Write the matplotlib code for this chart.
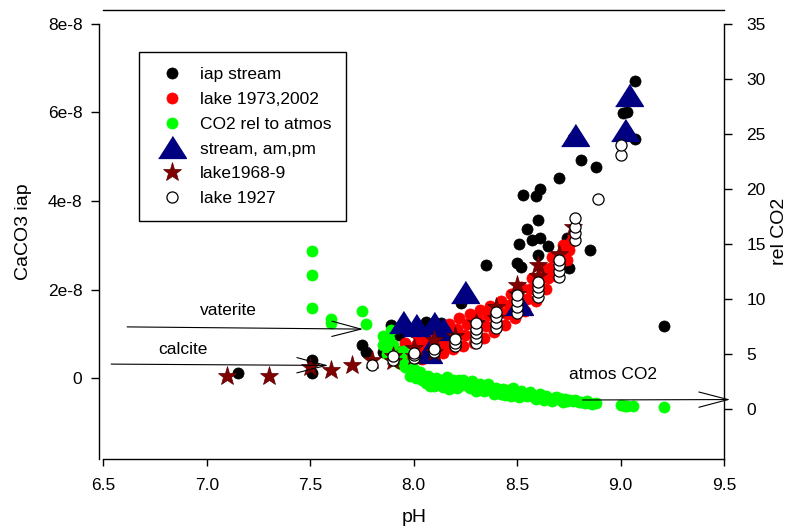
import matplotlib
matplotlib.use("Agg")
import matplotlib.pyplot as plt
import numpy as np

plt.rcParams['font.family'] = ['Liberation Sans', 'DejaVu Sans']

# --- data (iap values are in units of 1e-8) ---
stream_ph = [7.15, 7.51, 7.51, 7.75, 7.77, 7.85, 7.89, 7.93, 8.00, 8.08, 8.06, 8.13,
             8.23, 8.35, 8.50, 8.52, 8.60, 8.51, 8.55, 8.57, 8.61, 8.65, 8.60, 8.74,
             8.85, 8.75, 8.53, 8.59, 8.61, 8.70, 8.81, 8.88, 9.01, 9.03, 9.07, 9.07,
             8.77, 9.21]
stream_iap = [0.13, 0.41, 0.12, 0.75, 0.60, 0.60, 1.20, 0.98, 1.05, 1.00, 1.28, 1.25,
              1.69, 2.55, 2.60, 2.52, 2.78, 3.03, 3.36, 3.13, 3.16, 2.99, 3.57, 3.16,
              2.90, 2.50, 4.14, 4.12, 4.27, 4.51, 4.93, 4.78, 5.98, 6.02, 6.72, 5.40,
              5.42, 1.18]

lake73_ph = [7.92, 7.95, 7.96,
             7.99, 8.00, 8.01, 8.02,
             8.04, 8.05, 8.06, 8.07,
             8.09, 8.10, 8.11, 8.12,
             8.14, 8.15, 8.16, 8.17,
             8.19, 8.20, 8.21, 8.22,
             8.24, 8.25, 8.26, 8.27,
             8.29, 8.30, 8.31, 8.32,
             8.34, 8.35, 8.36, 8.37,
             8.39, 8.40, 8.41, 8.42,
             8.44, 8.45, 8.46, 8.47,
             8.49, 8.50, 8.51, 8.52,
             8.54, 8.55, 8.56, 8.57,
             8.59, 8.60, 8.61, 8.62,
             8.64, 8.65, 8.66, 8.67,
             8.69, 8.70, 8.71, 8.72,
             8.74, 8.75, 8.76, 8.77]
lake73_iap = [0.62, 0.50, 0.80,
              0.40, 0.58, 0.76, 0.95,
              0.44, 0.62, 0.82, 1.00,
              0.50, 0.70, 0.90, 1.10,
              0.56, 0.78, 1.00, 1.22,
              0.65, 0.88, 1.12, 1.35,
              0.72, 0.98, 1.22, 1.46,
              0.80, 1.06, 1.32, 1.55,
              0.92, 1.18, 1.42, 1.64,
              1.05, 1.30, 1.52, 1.75,
              1.20, 1.44, 1.66, 1.90,
              1.35, 1.60, 1.84, 2.05,
              1.52, 1.78, 2.02, 2.26,
              1.75, 2.00, 2.25, 2.50,
              2.02, 2.26, 2.50, 2.74,
              2.30, 2.55, 2.78, 3.00,
              2.68, 2.90, 3.08, 3.22]

co2_ph = [7.51, 7.51, 7.51, 7.60, 7.60, 7.75, 7.77, 7.85, 7.85, 7.86, 7.88, 7.89,
          7.90, 7.87, 7.91, 7.92, 7.93, 7.95, 7.96, 7.97, 7.99, 8.00, 8.02, 8.04,
          8.05, 8.07, 8.08, 8.10, 8.12, 8.13, 8.14, 8.16, 8.18, 8.20, 8.22, 8.24,
          8.26, 8.27, 8.29, 8.31, 8.33, 8.34, 8.36, 8.36, 8.38, 8.40, 8.42, 8.42,
          8.44, 8.45, 8.47, 8.48, 8.50, 8.52, 8.53, 8.55, 8.56, 8.58, 8.60, 8.62,
          8.63, 8.65, 8.67, 8.68, 8.69, 8.71, 8.73, 8.74, 8.77, 8.80, 8.83, 8.86,
          8.88, 9.00, 9.02, 9.03, 9.06, 9.21,
          7.94, 7.98, 8.01, 8.03, 8.06, 8.09, 8.11, 8.15, 8.17, 8.19, 8.21, 8.23,
          8.25, 8.28, 8.30, 8.32, 8.35, 8.37, 8.39, 8.41, 8.43, 8.46, 8.49, 8.51,
          8.54, 8.57, 8.59, 8.61, 8.64, 8.66, 8.70, 8.72, 8.75, 8.78, 8.81, 8.84]
co2_rel = [14.4, 12.2, 9.2, 8.15, 7.8, 8.9, 7.75, 6.6, 5.8, 6.1, 6.4, 7.2,
           5.8, 5.0, 4.8, 4.5, 4.2, 5.3, 3.8, 4.0, 3.3, 3.6, 3.2, 2.6,
           3.0, 3.0, 2.1, 2.1, 2.3, 2.6, 2.0, 2.9, 2.1, 2.3, 2.6, 2.6,
           2.2, 1.9, 2.1, 1.8, 2.0, 1.6, 2.2, 2.3, 1.6, 1.9, 1.7, 1.4,
           1.3, 1.5, 1.2, 1.9, 1.3, 1.6, 1.4, 1.2, 1.5, 1.1, 1.2, 1.0,
           0.8, 1.0, 0.7, 0.9, 1.1, 0.8, 0.9, 0.7, 0.7, 0.6, 0.5, 0.45,
           0.5, 0.36, 0.3, 0.3, 0.27, 0.15,
           4.6, 3.0, 2.8, 3.4, 2.4, 2.6, 2.8, 2.4, 1.8, 2.6, 1.9, 2.2,
           2.4, 2.5, 1.6, 2.3, 1.7, 2.0, 1.4, 1.5, 1.8, 1.7, 1.5, 1.1,
           1.3, 1.3, 0.9, 1.4, 1.2, 0.9, 1.0, 0.6, 0.8, 0.8, 0.6, 0.7]

ampm_ph = [7.95, 8.01, 8.10, 8.14, 8.07, 8.25, 8.51, 8.78, 9.02, 9.04]
ampm_iap = [1.26, 1.20, 1.24, 1.12, 0.60, 1.95, 1.68, 5.49, 5.60, 6.40]

lake68_ph = [7.10, 7.30, 7.50, 7.60, 7.70, 7.80, 7.90, 7.90, 8.00, 8.00, 8.10, 8.10,
             8.20, 8.30, 8.40, 8.40, 8.50, 8.50, 8.60, 8.60, 8.70, 8.77]
lake68_iap = [0.05, 0.06, 0.26, 0.19, 0.30, 0.41, 0.40, 0.50, 0.50, 0.68, 0.60, 0.86,
              0.95, 1.25, 1.35, 1.62, 1.90, 2.10, 2.30, 2.56, 2.80, 3.42]

lake27_ph = [7.80, 7.90, 7.90, 8.00, 8.00, 8.00, 8.10, 8.10, 8.20, 8.20, 8.20,
             8.30, 8.30, 8.30, 8.30, 8.30, 8.40, 8.40, 8.40, 8.40, 8.50, 8.50, 8.50,
             8.50, 8.60, 8.60, 8.60, 8.60, 8.70, 8.70, 8.70, 8.70, 8.78, 8.78, 8.78,
             8.78, 8.89, 9.00, 9.00]
lake27_iap = [0.30, 0.42, 0.50, 0.46, 0.52, 0.56, 0.60, 0.66, 0.72, 0.80, 0.88,
              0.80, 0.90, 1.02, 1.12, 1.25, 1.13, 1.25, 1.38, 1.50, 1.47, 1.60, 1.75,
              1.88, 1.84, 1.95, 2.06, 2.18, 2.29, 2.42, 2.55, 2.67, 3.12, 3.27, 3.42,
              3.61, 4.04, 5.04, 5.27]

left_ticks = [0, 2, 4, 6, 8]
left_labels = ["0", "2e-8", "4e-8", "6e-8", "8e-8"]
right_ticks = [0, 5, 10, 15, 20, 25, 30, 35]
x_ticks = [6.5, 7.0, 7.5, 8.0, 8.5, 9.0, 9.5]

# --- figure / axes ---
fig = plt.figure(figsize=(7.96, 5.31), dpi=100)
ax = fig.add_axes([0.1298, 0.1356, 0.7798, 0.8456])
ax2 = ax.twinx()

tri = [(-1.27, -1), (1.27, -1), (0, 1)]

ax.plot(stream_ph, stream_iap, 'o', color='black', ms=8, mec='black', mew=0.5,
        label='iap stream')
ax.plot(lake73_ph, lake73_iap, 'o', color='#ff0000', ms=8, mec='#ff0000', mew=0.5,
        label='lake 1973,2002')
ax.plot(co2_ph, co2_rel, 'o', color='#00ff00', ms=8, mec='#00ff00', mew=0.5,
        transform=ax2.transData, label='CO2 rel to atmos')
ax.plot(ampm_ph, ampm_iap, marker=tri, linestyle='none', color='#000080', ms=20,
        mec='#000080', label='stream, am,pm')
ax.plot(lake68_ph, lake68_iap, '*', color='#800000', ms=14, mec='#5a0000', mew=0.5,
        label='lake1968-9')
ax.plot(lake27_ph, lake27_iap, 'o', color='white', ms=8, mec='black', mew=0.9,
        label='lake 1927')

# annotations
arrow = dict(arrowstyle='->,head_length=21,head_width=5.5', color='black', lw=0.8,
             shrinkA=0, shrinkB=0, mutation_scale=1)
ax.annotate('', xy=(7.756, 1.11), xytext=(6.615, 1.16), arrowprops=arrow)
ax.annotate('', xy=(7.587, 0.29), xytext=(6.538, 0.32), arrowprops=arrow)
ax.annotate('', xy=(9.53, -0.48), xytext=(8.816, -0.49), arrowprops=arrow,
            annotation_clip=False)
ax.text(7.104, 1.54, 'vaterite', fontsize=12.5, ha='center', va='center')
ax.text(6.886, 0.64, 'calcite', fontsize=12.5, ha='center', va='center')
ax.text(8.961, 0.075, 'atmos CO2', fontsize=12.5, ha='center', va='center')

# limits / spines
ax.set_xlim(6.5, 9.5)
ax.set_ylim(-1.822, 8.314)
ax2.set_ylim(-4.545, 36.27)
ax.set_xticks(x_ticks)
ax.set_yticks(left_ticks)
ax.set_yticklabels(left_labels)
ax2.set_yticks(right_ticks)

ax.spines['left'].set_bounds(-1.822, 8)
ax.spines['left'].set_position(('outward', 3))
ax.spines['right'].set_visible(False)
ax2.spines['left'].set_visible(False)
ax2.spines['bottom'].set_visible(False)
ax2.spines['top'].set_visible(False)
ax2.spines['right'].set_bounds(-4.545, 35)
for s in ax.spines.values():
    s.set_linewidth(1.0)
ax2.spines['right'].set_linewidth(1.0)

ax.tick_params(axis='x', direction='out', length=5, width=1, labelsize=12.5, pad=9)
ax.tick_params(axis='y', direction='out', length=6, width=1, labelsize=12.5, pad=6)
ax2.tick_params(axis='y', direction='out', length=6, width=1, labelsize=12.5, pad=10)

fig.text(0.030, 1 - 232 / 531, 'CaCO3 iap', rotation=90, fontsize=14,
         ha='center', va='center')
fig.text(414 / 796, 1 - 518 / 531, 'pH', fontsize=14, ha='center', va='center')
fig.text(779 / 796, 1 - 231 / 531, 'rel CO2', rotation=90, fontsize=14,
         ha='center', va='center')

leg = ax.legend(loc='upper left', bbox_to_anchor=(0.0575, 0.9065), borderaxespad=0,
                numpoints=1, fontsize=12.5, fancybox=False, edgecolor='black',
                framealpha=1, borderpad=0.85, handlelength=2.1, handletextpad=0.55,
                labelspacing=0.56)
leg.get_frame().set_linewidth(1.0)

fig.savefig('out.png', dpi=100)
